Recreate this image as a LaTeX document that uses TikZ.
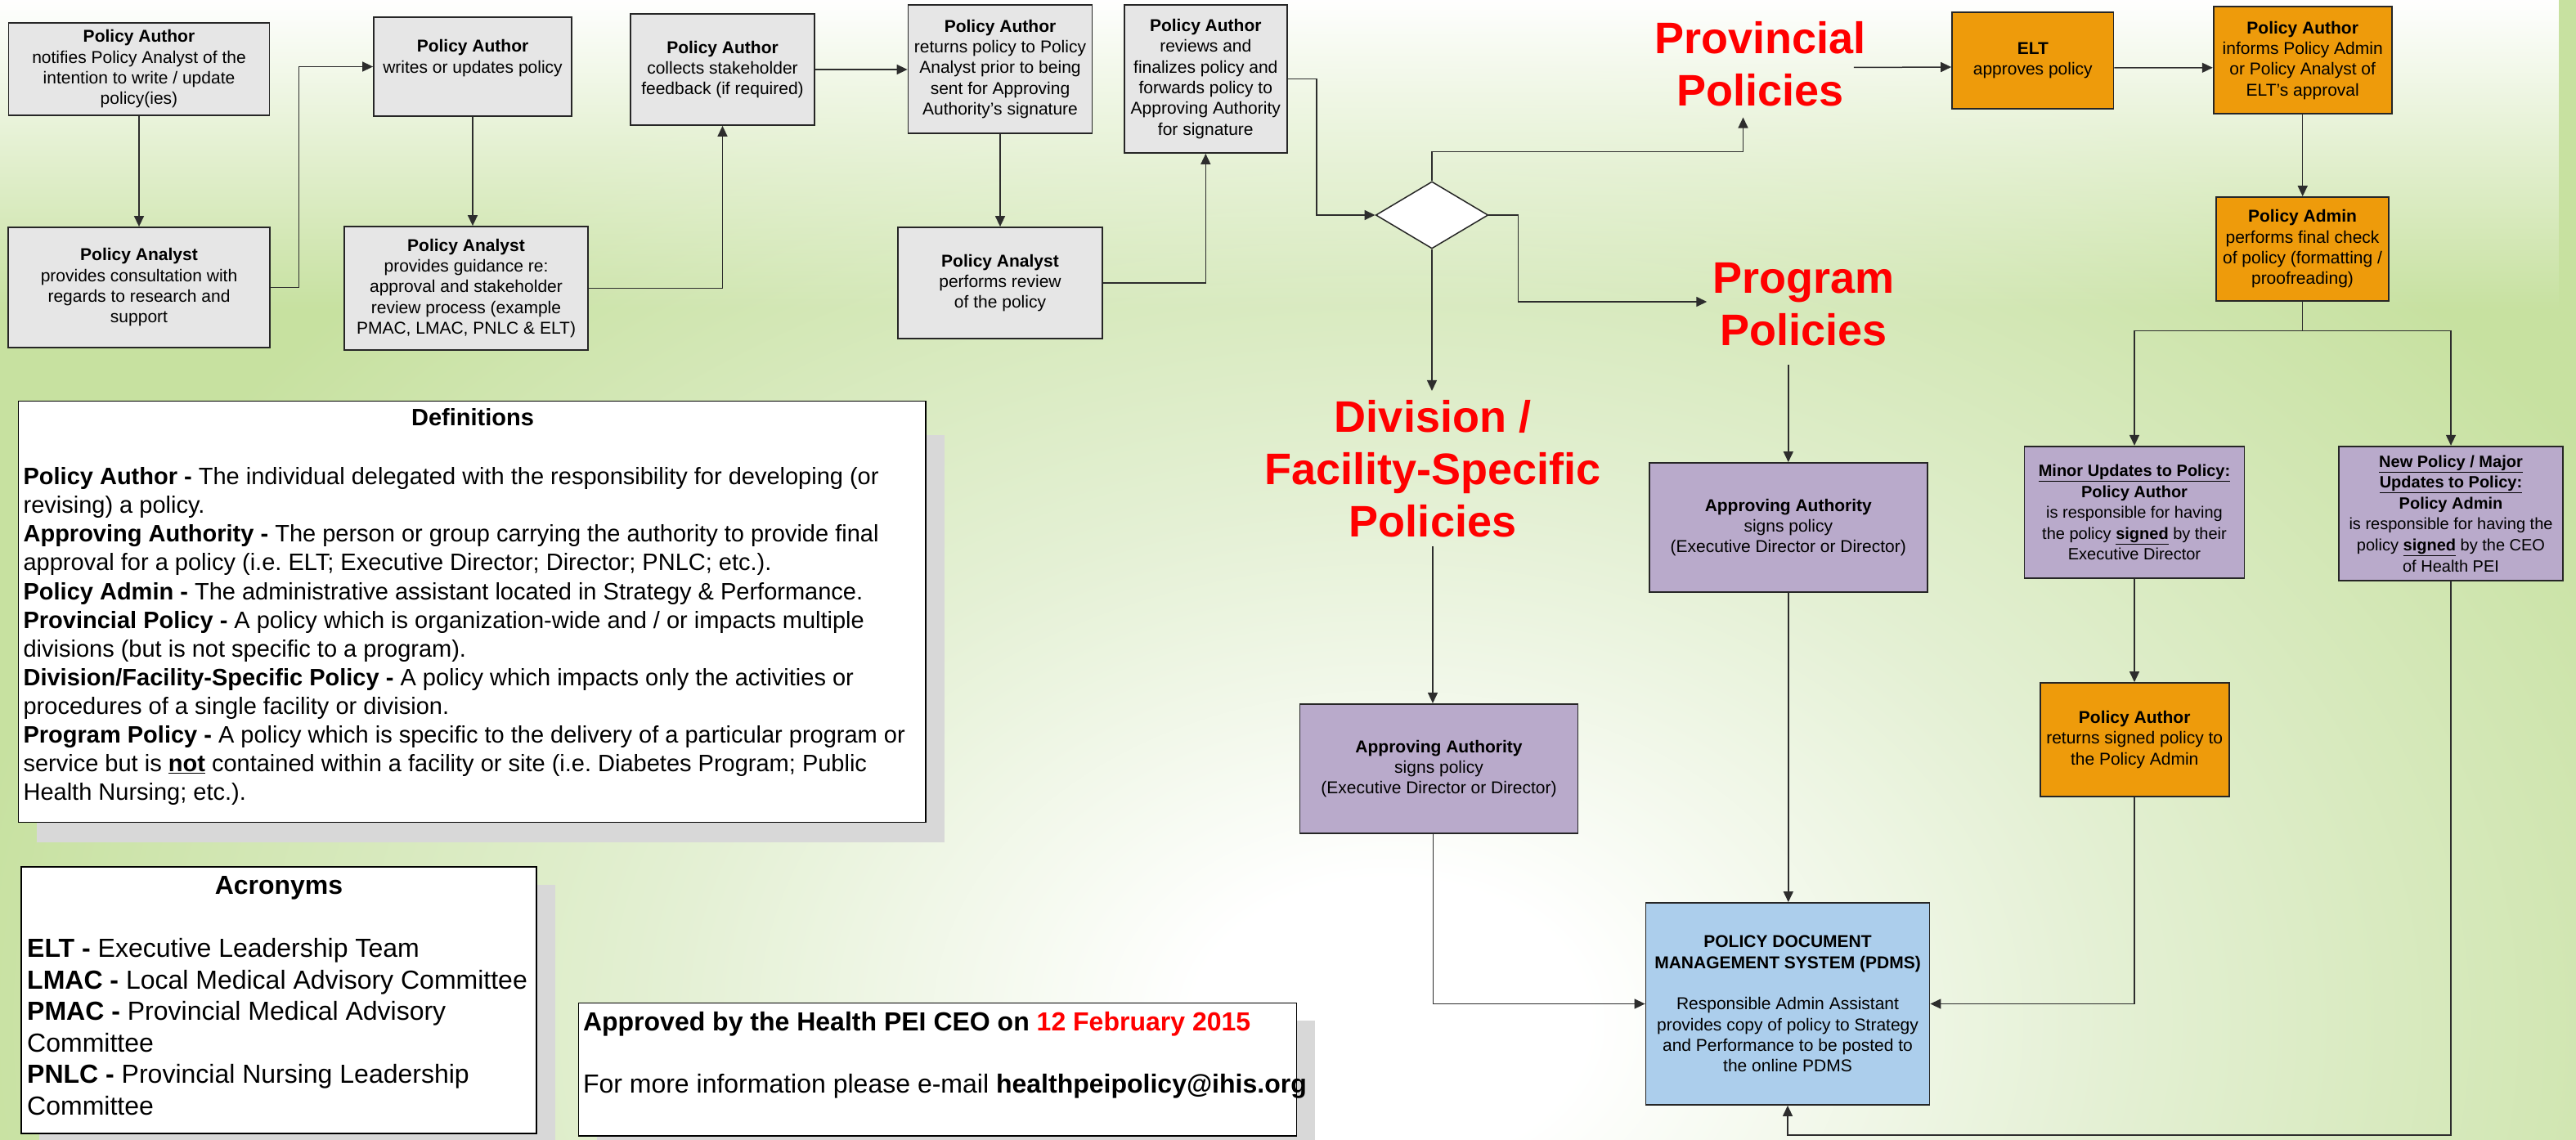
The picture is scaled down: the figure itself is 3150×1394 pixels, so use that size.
\documentclass[tikz,border=0pt]{standalone}
\usepackage{fontspec}
\setmainfont{Liberation Sans}
\usetikzlibrary{arrows.meta,shapes.geometric,calc,fadings}
\definecolor{bggreen}{RGB}{199,225,160}
\definecolor{bgmid}{RGB}{228,240,212}
\definecolor{boxgray}{RGB}{230,230,230}
\definecolor{boxorange}{RGB}{238,155,11}
\definecolor{boxpurple}{RGB}{185,170,203}
\definecolor{boxblue}{RGB}{172,206,236}
\definecolor{shadowgray}{RGB}{216,216,216}
\definecolor{lbl}{RGB}{255,0,0}
\definecolor{edge}{RGB}{38,38,38}
\definecolor{conn}{RGB}{45,45,45}
\newcommand{\setfs}[2]{\fontsize{#1}{#2}\selectfont}
\pgfdeclareradialshading{bgrad}{\pgfpoint{0bp}{0bp}}{color(0bp)=(white); color(3bp)=(white); color(11bp)=(bgmid); color(22bp)=(bggreen); color(50bp)=(bggreen)}
\tikzfading[name=topfade, top color=transparent!0, bottom color=transparent!100]
\tikzset{
  box/.style={draw=edge, line width=1.8pt, align=center, inner sep=0pt, font=\setfs{21}{25.3}},
  graybox/.style={box, fill=boxgray},
  orangebox/.style={box, fill=boxorange},
  purplebox/.style={box, fill=boxpurple},
  bluebox/.style={box, fill=boxblue},
  infobox/.style={draw=black, line width=1.5pt, fill=white, inner sep=0pt},
  biglbl/.style={text=lbl, font=\bfseries\setfs{54}{64}, align=center, inner sep=0pt},
  arr/.style={draw=conn, line width=1.5pt, -{Triangle[length=13pt,width=12pt]}},
  conn/.style={draw=conn, line width=1.5pt}
}
\begin{document}
\frenchspacing
\begin{tikzpicture}[x=1pt,y=-1pt]
\useasboundingbox (0,0) rectangle (3150,1394);
% background
\begin{scope}
\clip (0,0) rectangle (3150,1394);
\fill[bggreen] (0,0) rectangle (3150,1394);
\shade[shading=bgrad] (1700,1250) ellipse [x radius=2000pt, y radius=1450pt];
\fill[white, path fading=topfade] (0,0) rectangle (3150,380);
% shadows of the info boxes
\fill[shadowgray] (44.8,532) rectangle (1155,1030);
\fill[shadowgray] (48,1082) rectangle (679,1400);
\fill[shadowgray] (730,1248) rectangle (1608,1400);
\end{scope}

% ---------- top flow ----------
\node[graybox, minimum width=319pt, minimum height=113pt] (a1) at (170,84.5)
  {\textbf{Policy Author}\\notifies Policy Analyst of the\\intention to write / update\\policy(ies)};
\node[graybox, minimum width=242pt, minimum height=121pt] (a2) at (578,81.5)
  {\textbf{Policy Author}\\writes or updates policy\\\mbox{}};
\node[graybox, minimum width=225pt, minimum height=136pt] (a3) at (883.5,85)
  {\textbf{Policy Author}\\collects stakeholder\\feedback (if required)};
\node[graybox, minimum width=319.5pt, minimum height=147pt] (b1) at (170,351.5)
  {\textbf{Policy Analyst}\\provides consultation with\\regards to research and\\support};
\node[graybox, minimum width=298pt, minimum height=151pt] (b2) at (570,352.5)
  {\textbf{Policy Analyst}\\provides guidance re:\\approval and stakeholder\\review process (example\\PMAC, LMAC, PNLC \& ELT)};
\node[graybox, minimum width=225pt, minimum height=157pt] (a4) at (1223,84.4)
  {\textbf{Policy Author}\\returns policy to Policy\\Analyst prior to being\\sent for Approving\\Authority’s signature};
\node[graybox, minimum width=199.4pt, minimum height=181.3pt] (a5) at (1474.3,96.4)
  {\textbf{Policy Author}\\reviews and\\finalizes policy and\\forwards policy to\\Approving Authority\\for signature};
\node[graybox, minimum width=249.5pt, minimum height=136pt] (b3) at (1223,346)
  {\textbf{Policy Analyst}\\performs review\\of the policy};

\node[diamond, draw=edge, line width=1.5pt, fill=white, minimum width=137.4pt, minimum height=82pt, inner sep=0pt] (dia) at (1751,263) {};

% ---------- labels ----------
\node[biglbl, inner ysep=13pt] (prov) at (2152.5,78.5) {Provincial\\Policies};
\node[biglbl, inner xsep=7pt, inner ysep=22pt] (prog) at (2205.5,372.5) {Program\\Policies};
\node[biglbl, inner ysep=11pt] (divlab) at (1752,573) {Division /\\Facility-Specific\\Policies};

% ---------- provincial branch ----------
\node[orangebox, minimum width=197.5pt, minimum height=118pt] (elt) at (2485.8,74)
  {\textbf{ELT}\\approves policy};
\node[orangebox, minimum width=218pt, minimum height=131pt] (pai) at (2815.7,73.8)
  {\textbf{Policy Author}\\informs Policy Admin\\or Policy Analyst of\\ELT’s approval};
\node[orangebox, minimum width=211pt, minimum height=127pt] (padm) at (2815.5,304.5)
  {\textbf{Policy Admin}\\performs final check\\of policy (formatting /\\proofreading)};
\node[purplebox, font=\setfs{20}{25.6}, minimum width=269pt, minimum height=161.5pt] (minor) at (2610,626.5)
  {\textbf{\underline{Minor Updates to Policy:}}\\\textbf{Policy Author}\\is responsible for having\\the policy \textbf{\underline{signed}} by their\\Executive Director};
\node[purplebox, font=\setfs{20}{25.6}, minimum width=274pt, minimum height=164.6pt] (newp) at (2997,628)
  {\textbf{\underline{New Policy / Major}}\\\textbf{\underline{Updates to Policy:}}\\\textbf{Policy Admin}\\is responsible for having the\\policy \textbf{\underline{signed}} by the CEO\\of Health PEI};
\node[orangebox, minimum width=231pt, minimum height=139pt] (par) at (2610.2,904.5)
  {\textbf{Policy Author}\\returns signed policy to\\the Policy Admin};

% ---------- program / division ----------
\node[purplebox, minimum width=340.4pt, minimum height=158pt] (progaa) at (2186.8,645)
  {\textbf{Approving Authority}\\signs policy\\(Executive Director or Director)};
\node[purplebox, minimum width=340pt, minimum height=158.3pt] (divaa) at (1759.5,940)
  {\textbf{Approving Authority}\\signs policy\\(Executive Director or Director)};
\node[bluebox, minimum width=347pt, minimum height=247pt] (pdms) at (2186,1227.5)
  {\textbf{POLICY DOCUMENT}\\\textbf{MANAGEMENT SYSTEM (PDMS)}\\[25.3pt]Responsible Admin Assistant\\provides copy of policy to Strategy\\and Performance to be posted to\\the online PDMS};

% ---------- connectors ----------
\draw[arr] (a1.south) -- (b1.north);
\draw[arr] (b1.east) -- ++(35,0) |- (a2.west);
\draw[arr] (a2.south) -- (a2.south |- b2.north);
\draw[arr] (b2.east) -| (a3.south);
\draw[arr] (a3.east) -- (a3.east -| a4.west);
\draw[arr] (a4.south) -- (a4.south |- b3.north);
\draw[arr] (b3.east) -| (a5.south);
\draw[arr] (a5.east) -- ++(35,0) |- (dia.west);
\draw[arr] (dia.north) -- ++(0,-36) -| ($(prov.south)+(-21,0)$);
\draw[arr] (dia.east) -- ++(36,0) |- ($(prog.west)+(0,-3.5)$);
\draw[arr] (dia.south) -- (dia.south |- divlab.north);
\draw[arr] ($(prov.east)+(-15,4)$) -- ($(elt.west)+(0,8)$);
\draw[arr] ($(elt.east)+(0,9)$) -- ($(pai.west)+(0,9)$);
\draw[arr] (pai.south) -- (pai.south |- padm.north);
\draw[arr] (padm.south) -- ++(0,35.5) -| (minor.north);
\draw[arr] (padm.south) -- ++(0,35.5) -| (newp.north);
\draw[arr] (minor.south) -- (minor.south |- par.north);
\draw[arr] (par.south) |- (pdms.east);
\draw[arr] (newp.south) -- ++(0,676.6) -| (pdms.south);
\draw[arr] (prog.south -| progaa.north) -- (progaa.north);
\draw[arr] (progaa.south) -- (progaa.south |- pdms.north);
\draw[arr] (divlab.south) -- (divlab.south |- divaa.north);
\draw[arr] ($(divaa.south)+(-7,0)$) |- (pdms.west);

% ---------- definitions ----------
\node[infobox, minimum width=1109.6pt, minimum height=514.7pt] (defbox) at (577.2,748) {};
\node[font=\bfseries\setfs{29}{35}, anchor=base, inner sep=0pt] (deftitle) at (578,520.9) {Definitions};
\node[font=\setfs{29}{35.05}, align=left, anchor=north west, inner sep=0pt] (deftext) at (28.4,571.6)
  {\textbf{Policy Author -} The individual delegated with the responsibility for developing (or\\
   revising) a policy.\\
   \textbf{Approving Authority -} The person or group carrying the authority to provide final\\
   approval for a policy (i.e. ELT; Executive Director; Director; PNLC; etc.).\\
   \textbf{Policy Admin -} The administrative assistant located in Strategy \& Performance.\\
   \textbf{Provincial Policy -} A policy which is organization-wide and / or impacts multiple\\
   divisions (but is not specific to a program).\\
   \textbf{Division/Facility-Specific Policy -} A policy which impacts only the activities or\\
   procedures of a single facility or division.\\
   \textbf{Program Policy -} A policy which is specific to the delivery of a particular program or\\
   service but is \textbf{\underline{not}} contained within a facility or site (i.e. Diabetes Program; Public\\
   Health Nursing; etc.).};

% ---------- acronyms ----------
\node[infobox, minimum width=630.2pt, minimum height=326pt] (acrbox) at (340.9,1223) {};
\node[font=\bfseries\setfs{32}{38}, anchor=base, inner sep=0pt] (acrtitle) at (341,1093.3) {Acronyms};
\node[font=\setfs{32}{38.5}, align=left, anchor=north west, inner sep=0pt] (acrtext) at (33,1147.3)
  {\textbf{ELT -} Executive Leadership Team\\
   \textbf{LMAC -} Local Medical Advisory Committee\\
   \textbf{PMAC -} Provincial Medical Advisory\\
   Committee\\
   \textbf{PNLC -} Provincial Nursing Leadership\\
   Committee};

% ---------- approval ----------
\node[infobox, minimum width=878.1pt, minimum height=162.3pt] (apprbox) at (1146.65,1307.85) {};
\node[font=\setfs{32}{76.7}, align=left, anchor=north west, inner sep=0pt] (apprtext) at (712.8,1236.6)
  {\textbf{Approved by the Health PEI CEO on \textcolor{lbl}{12 February 2015}}\\
   For more information please e-mail \textbf{healthpeipolicy@ihis.org}};
\end{tikzpicture}
\end{document}
